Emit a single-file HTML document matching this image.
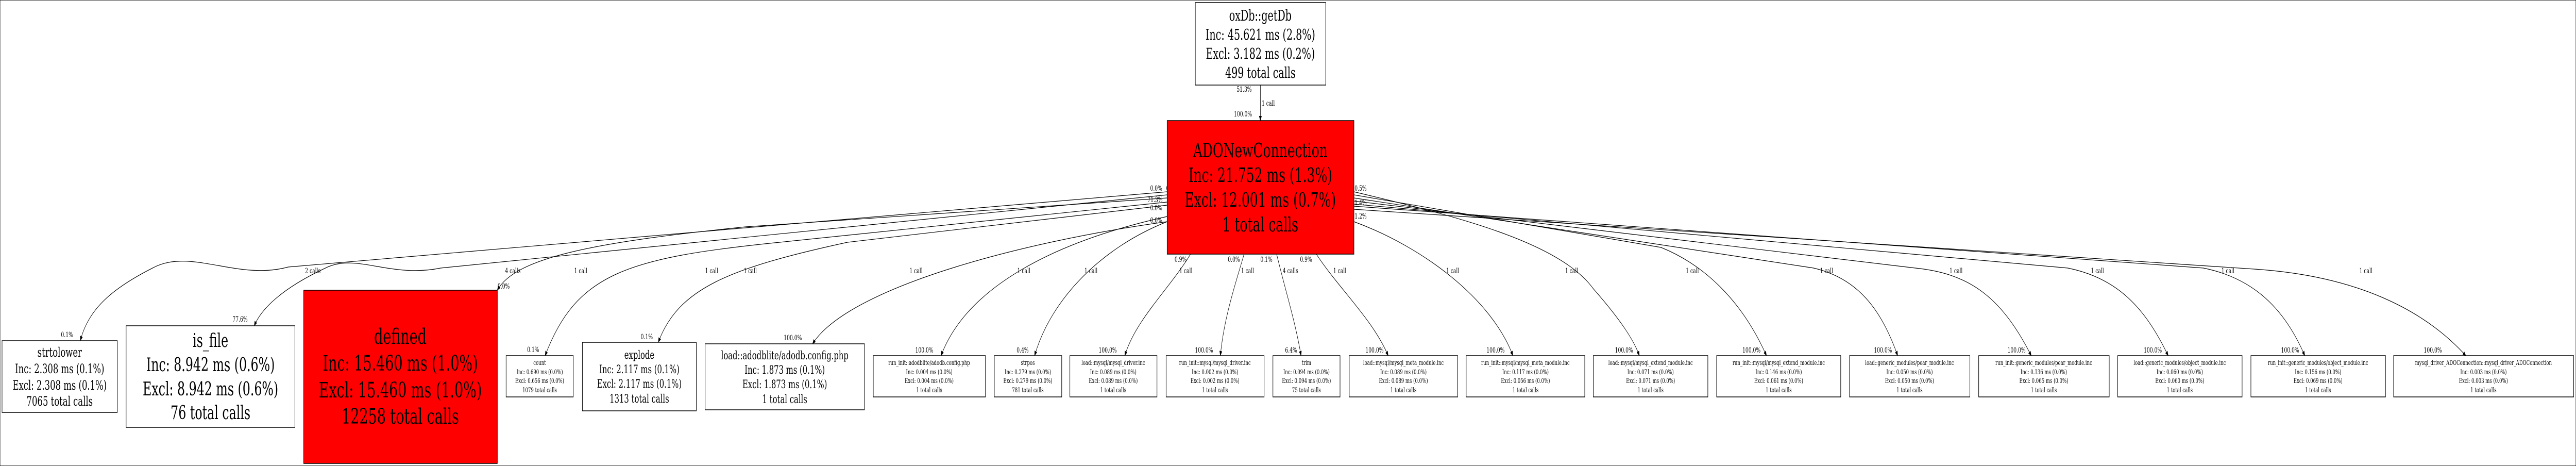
<!DOCTYPE html>
<html><head><meta charset="utf-8"><style>
html,body{margin:0;padding:0;width:100%;height:100%;overflow:hidden;background:#fff;}
svg{position:absolute;left:0;top:0;width:100%;height:100%;display:block;}
text{font-family:"DejaVu Serif","Liberation Serif",serif;fill:#000;}
.l{font-size:14px;}
.m{text-anchor:middle;}
rect{stroke:#000;stroke-width:1.5;}
</style></head><body>
<svg viewBox="0 0 7599 904" preserveAspectRatio="none">
<defs><marker id="a" markerWidth="10" markerHeight="8" refX="9" refY="4" orient="auto" markerUnits="userSpaceOnUse"><path d="M0,0 L10,4 L0,8 z" fill="#000"/></marker></defs>
<rect x="0" y="0" width="7599" height="904" fill="#fff" stroke="none"/>
<g fill="none" stroke="#000" stroke-width="1.2" marker-end="url(#a)">
<path d="M3718 165 L3718 234"/>
<path d="M3443 372 L850 518 C700 545 560 480 450 520 C330 560 260 600 237 661"/>
<path d="M3443 378 L1300 520 C1150 540 1050 490 960 520 C830 560 770 600 750 632"/>
<path d="M3443 384 L2200 440 C1750 470 1520 500 1467 563"/>
<path d="M3443 392 L2300 470 C1850 500 1700 530 1608 690"/>
<path d="M3443 398 L2500 470 C2150 520 2000 560 1942 664"/>
<path d="M3443 430 C3000 470 2500 560 2397 667"/>
<path d="M3443 420 C3100 470 2850 560 2776 690"/>
<path d="M3443 430 C3250 480 3100 580 3052 690"/>
<path d="M3512 493 C3450 560 3350 620 3318 690"/>
<path d="M3670 493 C3640 560 3610 620 3600 690"/>
<path d="M3766 493 C3790 560 3820 620 3838 690"/>
<path d="M3883 493 C3950 560 4050 620 4095 690"/>
<path d="M3994 430 C4200 480 4400 580 4463 690"/>
<path d="M3994 372 C4300 420 4600 470 4700 560 C4780 620 4820 660 4836 690"/>
<path d="M3994 378 L4900 480 C5050 520 5150 600 5211 690"/>
<path d="M3994 384 L5350 520 C5480 540 5550 600 5598 690"/>
<path d="M3994 390 L5650 520 C5800 530 5900 570 5992 690"/>
<path d="M3994 396 L6100 520 C6250 540 6330 600 6396 690"/>
<path d="M3994 400 L6500 520 C6650 540 6740 600 6799 690"/>
<path d="M3994 406 L6650 522 C6950 535 7150 600 7274 690"/>
</g>
<g class="l">
<text x="3648" y="178">51.3%</text>
<text x="3722" y="205">1 call</text>
<text x="3640" y="226">100.0%</text>
<text x="3393" y="370">0.0%</text><text x="3440" y="370">0.0%</text>
<text x="3385" y="392">71.3%</text><text x="3448" y="392">19.2%</text>
<text x="3393" y="408">0.0%</text><text x="3393" y="432">0.0%</text>
<text x="3996" y="370">0.5%</text><text x="3948" y="372">0.9%</text>
<text x="3996" y="398">1.4%</text><text x="3996" y="424">1.2%</text>
<text x="3465" y="508">0.9%</text><text x="3622" y="508">0.0%</text>
<text x="3718" y="508">0.1%</text><text x="3835" y="508">0.9%</text>
<text x="900" y="530">2 calls</text><text x="1490" y="530">4 calls</text>
<text x="1694" y="530">1 call</text><text x="2080" y="530">1 call</text><text x="2194" y="530">1 call</text>
<text x="2683" y="530">1 call</text><text x="3001" y="530">1 call</text><text x="3199" y="530">1 call</text>
<text x="3479" y="530">1 call</text><text x="3661" y="530">1 call</text><text x="3784" y="530">4 calls</text>
<text x="3933" y="530">1 call</text><text x="4266" y="530">1 call</text><text x="4617" y="530">1 call</text>
<text x="4973" y="530">1 call</text><text x="5369" y="530">1 call</text><text x="5751" y="530">1 call</text>
<text x="6168" y="530">1 call</text><text x="6553" y="530">1 call</text><text x="6960" y="530">1 call</text>
<text x="180" y="654">0.1%</text><text x="686" y="624">77.6%</text><text x="1468" y="560">0.0%</text>
<text x="1555" y="683">0.1%</text><text x="1890" y="658">0.1%</text><text x="2312" y="660">100.0%</text>
<text x="2700" y="684">100.0%</text><text x="2999" y="684">0.4%</text><text x="3241" y="684">100.0%</text>
<text x="3525" y="684">100.0%</text><text x="3791" y="684">6.4%</text><text x="4028" y="684">100.0%</text>
<text x="4385" y="684">100.0%</text><text x="4764" y="684">100.0%</text><text x="5140" y="684">100.0%</text>
<text x="5528" y="684">100.0%</text><text x="5922" y="684">100.0%</text><text x="6324" y="684">100.0%</text>
<text x="6729" y="684">100.0%</text><text x="7150" y="684">100.0%</text>
</g>

<!-- getDb -->
<rect x="3526" y="5" width="385" height="160" fill="#fff"/>
<g class="m" style="font-size:29px"><text x="3718" y="40">oxDb::getDb</text><text x="3718" y="77">Inc: 45.621 ms (2.8%)</text><text x="3718" y="114">Excl: 3.182 ms (0.2%)</text><text x="3718" y="151">499 total calls</text></g>
<!-- ADONewConnection -->
<rect x="3443" y="234" width="551" height="259" fill="#ff0000"/>
<g class="m" style="font-size:38px"><text x="3718" y="305">ADONewConnection</text><text x="3718" y="353">Inc: 21.752 ms (1.3%)</text><text x="3718" y="401">Excl: 12.001 ms (0.7%)</text><text x="3718" y="449">1 total calls</text></g>
<!-- strtolower -->
<rect x="6" y="661" width="340" height="139" fill="#fff"/>
<g class="m" style="font-size:25px"><text x="176" y="692">strtolower</text><text x="176" y="724">Inc: 2.308 ms (0.1%)</text><text x="176" y="756">Excl: 2.308 ms (0.1%)</text><text x="176" y="787">7065 total calls</text></g>
<!-- is_file -->
<rect x="372" y="632" width="498" height="197" fill="#fff"/>
<g class="m" style="font-size:36px"><text x="621" y="673">is_file</text><text x="621" y="720">Inc: 8.942 ms (0.6%)</text><text x="621" y="767">Excl: 8.942 ms (0.6%)</text><text x="621" y="813">76 total calls</text></g>
<!-- defined -->
<rect x="896" y="563" width="571" height="336" fill="#ff0000"/>
<g class="m" style="font-size:41px"><text x="1181" y="667">defined</text><text x="1181" y="719">Inc: 15.460 ms (1.0%)</text><text x="1181" y="771">Excl: 15.460 ms (1.0%)</text><text x="1181" y="822">12258 total calls</text></g>
<!-- explode -->
<rect x="1718" y="664" width="336" height="133" fill="#fff"/>
<g class="m" style="font-size:22.5px"><text x="1886" y="696">explode</text><text x="1886" y="724">Inc: 2.117 ms (0.1%)</text><text x="1886" y="752">Excl: 2.117 ms (0.1%)</text><text x="1886" y="781">1313 total calls</text></g>
<!-- load adodb -->
<rect x="2080" y="667" width="470" height="128" fill="#fff"/>
<g class="m" style="font-size:22.5px"><text x="2315" y="697">load::adodblite/adodb.config.php</text><text x="2315" y="725">Inc: 1.873 ms (0.1%)</text><text x="2315" y="753">Excl: 1.873 ms (0.1%)</text><text x="2315" y="782">1 total calls</text></g>

<!-- small nodes -->
<g fill="#fff">
<rect x="1493" y="690" width="198" height="80"/>
<rect x="2576" y="690" width="331" height="80"/>
<rect x="2933" y="690" width="199" height="80"/>
<rect x="3156" y="690" width="257" height="80"/>
<rect x="3440" y="690" width="289" height="80"/>
<rect x="3755" y="690" width="198" height="80"/>
<rect x="3980" y="690" width="320" height="80"/>
<rect x="4325" y="690" width="350" height="80"/>
<rect x="4700" y="690" width="338" height="80"/>
<rect x="5064" y="690" width="366" height="80"/>
<rect x="5456" y="690" width="355" height="80"/>
<rect x="5837" y="690" width="385" height="80"/>
<rect x="6247" y="690" width="367" height="80"/>
<rect x="6640" y="690" width="397" height="80"/>
<rect x="7061" y="690" width="531" height="80"/>
</g>
<g class="m" style="font-size:13px">
<text x="1592" y="708">count</text><text x="1592" y="726">Inc: 0.690 ms (0.0%)</text><text x="1592" y="743">Excl: 0.656 ms (0.0%)</text><text x="1592" y="761">1079 total calls</text>
<text x="2741" y="708">run_init::adodblite/adodb.config.php</text><text x="2741" y="726">Inc: 0.004 ms (0.0%)</text><text x="2741" y="743">Excl: 0.004 ms (0.0%)</text><text x="2741" y="761">1 total calls</text>
<text x="3032" y="708">strpos</text><text x="3032" y="726">Inc: 0.279 ms (0.0%)</text><text x="3032" y="743">Excl: 0.279 ms (0.0%)</text><text x="3032" y="761">781 total calls</text>
<text x="3284" y="708">load::mysql/mysql_driver.inc</text><text x="3284" y="726">Inc: 0.089 ms (0.0%)</text><text x="3284" y="743">Excl: 0.089 ms (0.0%)</text><text x="3284" y="761">1 total calls</text>
<text x="3584" y="708">run_init::mysql/mysql_driver.inc</text><text x="3584" y="726">Inc: 0.002 ms (0.0%)</text><text x="3584" y="743">Excl: 0.002 ms (0.0%)</text><text x="3584" y="761">1 total calls</text>
<text x="3854" y="708">trim</text><text x="3854" y="726">Inc: 0.094 ms (0.0%)</text><text x="3854" y="743">Excl: 0.094 ms (0.0%)</text><text x="3854" y="761">75 total calls</text>
<text x="4140" y="708">load::mysql/mysql_meta_module.inc</text><text x="4140" y="726">Inc: 0.089 ms (0.0%)</text><text x="4140" y="743">Excl: 0.089 ms (0.0%)</text><text x="4140" y="761">1 total calls</text>
<text x="4500" y="708">run_init::mysql/mysql_meta_module.inc</text><text x="4500" y="726">Inc: 0.117 ms (0.0%)</text><text x="4500" y="743">Excl: 0.056 ms (0.0%)</text><text x="4500" y="761">1 total calls</text>
<text x="4869" y="708">load::mysql/mysql_extend_module.inc</text><text x="4869" y="726">Inc: 0.071 ms (0.0%)</text><text x="4869" y="743">Excl: 0.071 ms (0.0%)</text><text x="4869" y="761">1 total calls</text>
<text x="5247" y="708">run_init::mysql/mysql_extend_module.inc</text><text x="5247" y="726">Inc: 0.146 ms (0.0%)</text><text x="5247" y="743">Excl: 0.061 ms (0.0%)</text><text x="5247" y="761">1 total calls</text>
<text x="5633" y="708">load::generic_modules/pear_module.inc</text><text x="5633" y="726">Inc: 0.050 ms (0.0%)</text><text x="5633" y="743">Excl: 0.050 ms (0.0%)</text><text x="5633" y="761">1 total calls</text>
<text x="6029" y="708">run_init::generic_modules/pear_module.inc</text><text x="6029" y="726">Inc: 0.136 ms (0.0%)</text><text x="6029" y="743">Excl: 0.065 ms (0.0%)</text><text x="6029" y="761">1 total calls</text>
<text x="6430" y="708">load::generic_modules/object_module.inc</text><text x="6430" y="726">Inc: 0.060 ms (0.0%)</text><text x="6430" y="743">Excl: 0.060 ms (0.0%)</text><text x="6430" y="761">1 total calls</text>
<text x="6838" y="708">run_init::generic_modules/object_module.inc</text><text x="6838" y="726">Inc: 0.156 ms (0.0%)</text><text x="6838" y="743">Excl: 0.069 ms (0.0%)</text><text x="6838" y="761">1 total calls</text>
<text x="7326" y="708">mysql_driver_ADOConnection::mysql_driver_ADOConnection</text><text x="7326" y="726">Inc: 0.003 ms (0.0%)</text><text x="7326" y="743">Excl: 0.003 ms (0.0%)</text><text x="7326" y="761">1 total calls</text>
</g>
</svg>
</body></html>
